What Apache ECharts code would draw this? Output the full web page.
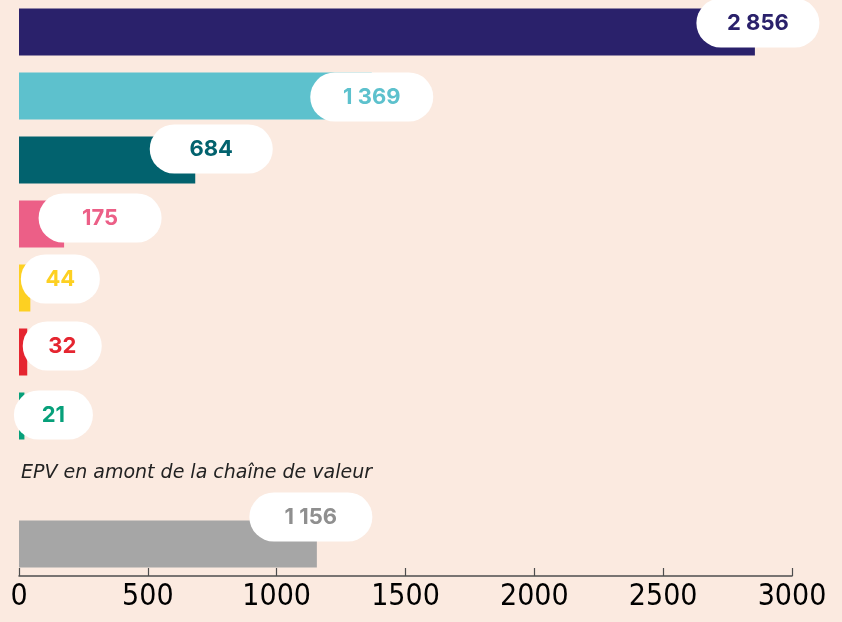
<!DOCTYPE html>
<html>
<head>
<meta charset="utf-8">
<style>
  html, body { margin: 0; padding: 0; background: #fbeae0; }
  #chart { width: 842px; height: 622px; }
</style>
<script src="https://cdn.jsdelivr.net/npm/echarts@6/dist/echarts.min.js"></script>
</head>
<body>
<div id="chart"></div>
<script>
// Rows top to bottom; the empty slot holds the section caption.
const categories = ['r1', 'r2', 'r3', 'r4', 'r5', 'r6', 'r7', 'caption', 'amont'];
const values = [2856, 1369, 684, 175, 44, 32, 21, null, 1156];
const xTicks = [0, 500, 1000, 1500, 2000, 2500, 3000];
const captionText = 'EPV en amont de la chaîne de valeur';

// Styling per row
const barColors = ['#2a216b', '#5dc1cd', '#02626e', '#ec5f87', '#fdd022', '#e52530', '#07a07a', null, '#a6a6a6'];
const labelColors = ['#2a216b', '#5dc1cd', '#02626e', '#ec5f87', '#fdd022', '#e52530', '#07a07a', null, '#8f8f8f'];
// Pill nudges [dx, dy] from the bar end
const pillNudge = [[3, -9], [0, 1], [16, -11], [36, -6], [30, -9], [35, -6], [29, -1], [0, 0], [-6, -27]];

function fmt(v) {
  return String(v).replace(/\B(?=(\d{3})+(?!\d))/g, ' ');
}

const seriesData = values.map(function (v, i) {
  if (v === null) return '-';
  const short = String(v).length <= 2;
  return {
    value: v,
    itemStyle: { color: barColors[i] },
    label: {
      show: true,
      position: 'right',
      distance: 0,
      align: 'center',
      verticalAlign: 'middle',
      offset: pillNudge[i],
      formatter: fmt(v),
      color: labelColors[i],
      fontFamily: 'Inter, Lato, sans-serif',
      fontWeight: 700,
      fontSize: 22,
      backgroundColor: '#ffffff',
      borderRadius: 25,
      width: short ? 79 : 123,
      height: 49,
      lineHeight: 49,
      padding: 0
    }
  };
});

const chart = echarts.init(document.getElementById('chart'), null, { renderer: 'canvas' });
chart.setOption({
  backgroundColor: '#fbeae0',
  animation: false,
  grid: { left: 19, right: 50, top: 0, bottom: 46, containLabel: false },
  xAxis: {
    type: 'value',
    min: xTicks[0],
    max: xTicks[xTicks.length - 1],
    interval: xTicks[1] - xTicks[0],
    axisLine: { show: true, lineStyle: { color: '#4d4d4d', width: 1.5 } },
    axisTick: { show: true, inside: true, length: 8, lineStyle: { color: '#4d4d4d', width: 1.2 } },
    splitLine: { show: false },
    axisLabel: {
      color: '#000000',
      fontSize: 30,
      fontFamily: "'Liberation Sans Narrow', 'DejaVu Sans Condensed', sans-serif",
      margin: 6,
      formatter: function (v) { return String(v); }
    }
  },
  yAxis: {
    type: 'category',
    inverse: true,
    data: categories,
    axisLine: { show: false },
    axisTick: { show: false },
    axisLabel: { show: false }
  },
  graphic: [{
    type: 'text',
    left: 21,
    top: 464,
    style: {
      text: captionText,
      font: "italic 19px 'DejaVu Sans', sans-serif",
      fill: '#222222'
    }
  }],
  series: [{
    type: 'bar',
    barWidth: 47,
    data: seriesData,
    z: 2
  }]
});
</script>
</body>
</html>
